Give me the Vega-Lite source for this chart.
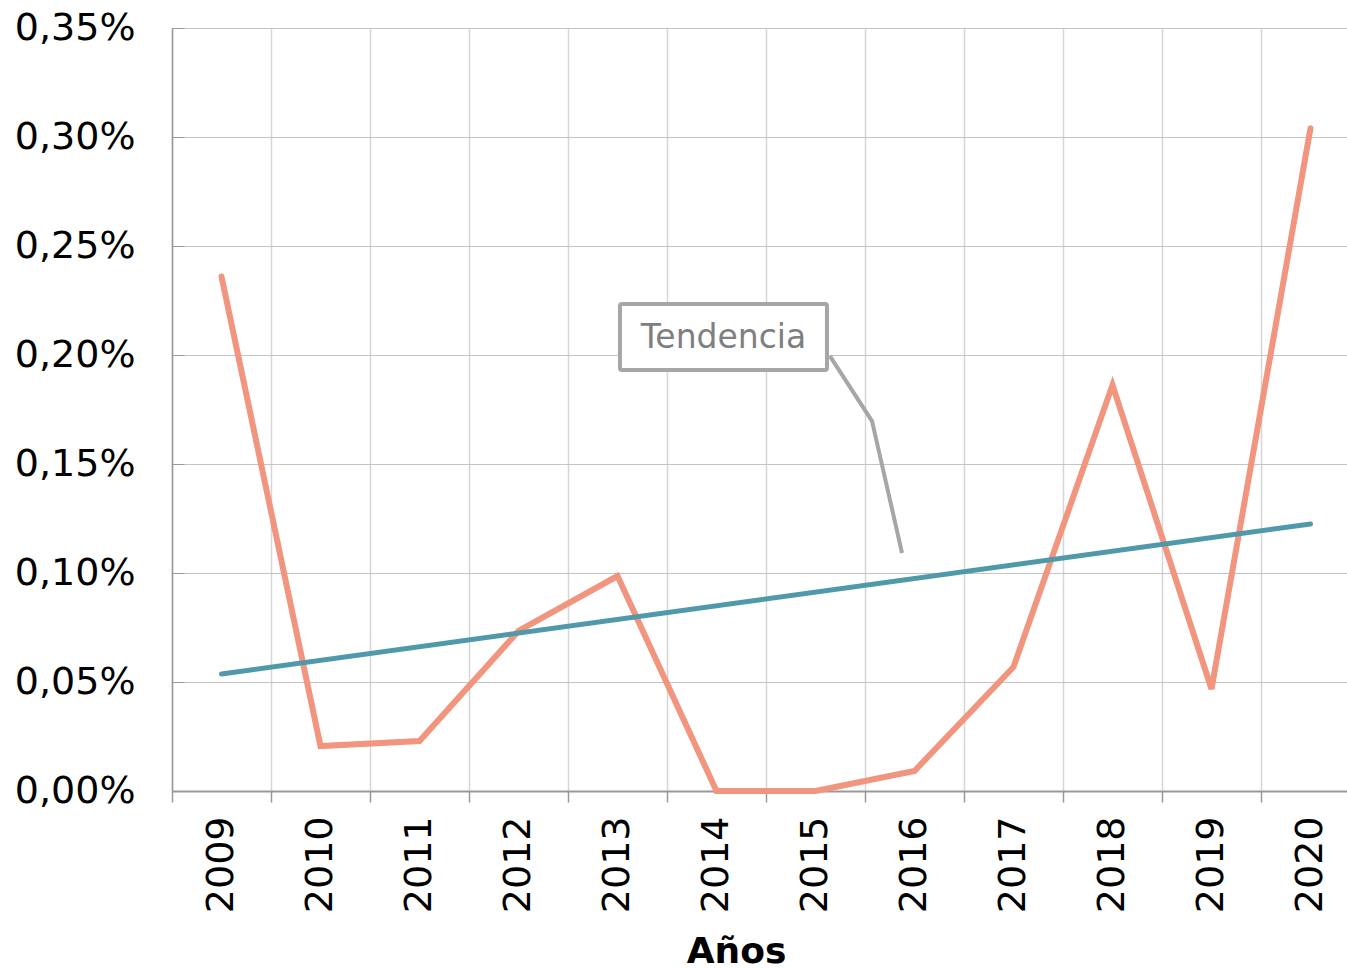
{
  "$schema": "https://vega.github.io/schema/vega-lite/v6.json",
  "width": 1188,
  "height": 763,
  "autosize": {"type": "none"},
  "padding": {"left": 172, "top": 28, "right": 0, "bottom": 177},
  "background": "white",
  "config": {
    "view": {"stroke": "#C4C4C4", "strokeWidth": 1},
    "font": "DejaVu Sans"
  },
  "datasets": {
    "main": [
      {"year": "2009", "v": 0.00236},
      {"year": "2010", "v": 0.000206},
      {"year": "2011", "v": 0.000229},
      {"year": "2012", "v": 0.000734},
      {"year": "2013", "v": 0.000986},
      {"year": "2014", "v": 0},
      {"year": "2015", "v": 0},
      {"year": "2016", "v": 0.000092},
      {"year": "2017", "v": 0.000569},
      {"year": "2018", "v": 0.001862},
      {"year": "2019", "v": 0.000468},
      {"year": "2020", "v": 0.00304}
    ],
    "trend": [
      {"year": "2009", "v": 0.000537},
      {"year": "2020", "v": 0.001225}
    ],
    "leader": [
      {"ax": 2015.146, "v": 0.001995, "o": 1},
      {"ax": 2015.571, "v": 0.001697, "o": 2},
      {"ax": 2015.874, "v": 0.001092, "o": 3}
    ],
    "box": [
      {"ax": 2013.025, "ax2": 2015.116, "v": 0.002234, "v2": 0.001931, "xc": 2014.071, "vc": 0.002078, "label": "Tendencia"}
    ]
  },
  "layer": [
    {
      "layer": [
        {
          "data": {"name": "main"},
          "mark": {"type": "line", "color": "#F2957F", "strokeWidth": 6, "strokeCap": "round", "strokeJoin": "miter"},
          "encoding": {
            "x": {
              "field": "year", "type": "ordinal",
              "scale": {"type": "band", "paddingInner": 0, "paddingOuter": 0, "domain": ["2009","2010","2011","2012","2013","2014","2015","2016","2017","2018","2019","2020"]},
              "axis": {
                "orient": "bottom",
                "title": "Años",
                "titleFont": "DejaVu Sans",
                "titleFontSize": 36,
                "titleFontWeight": "bold",
                "titleColor": "#000000",
                "titleX": 564,
                "titleY": 171,
                "titleBaseline": "alphabetic",
                "titleAlign": "center",
                "labelAngle": -90,
                "labelFont": "DejaVu Sans",
                "labelFontSize": 38,
                "labelColor": "#000000",
                "labelPadding": 14,
                "tickBand": "extent",
                "tickSize": 11,
                "tickColor": "#999999",
                "tickWidth": 1.5,
                "domainColor": "#999999",
                "domainWidth": 2,
                "grid": true,
                "gridColor": "#D6D6D6",
                "gridWidth": 1.5
              }
            },
            "y": {
              "field": "v", "type": "quantitative",
              "scale": {"domain": [0, 0.0035], "nice": false, "zero": true},
              "axis": {
                "title": null,
                "values": [0, 0.0005, 0.001, 0.0015, 0.002, 0.0025, 0.003, 0.0035],
                "labelExpr": "replace(format(datum.value, '.2%'), '.', ',')",
                "labelFont": "DejaVu Sans",
                "labelFontSize": 38,
                "labelColor": "#000000",
                "tickSize": -12,
                "tickColor": "#999999",
                "labelPadding": 49,
                "domainColor": "#999999",
                "domainWidth": 1.5,
                "grid": true,
                "gridColor": "#C4C4C4",
                "gridWidth": 1
              }
            }
          }
        },
        {
          "data": {"name": "trend"},
          "mark": {"type": "line", "color": "#4F99AA", "strokeWidth": 5, "strokeCap": "round"},
          "encoding": {
            "x": {"field": "year", "type": "ordinal"},
            "y": {"field": "v", "type": "quantitative"}
          }
        }
      ]
    },
    {
      "layer": [
        {
          "data": {"name": "leader"},
          "mark": {"type": "line", "color": "#A6A6A6", "strokeWidth": 4},
          "encoding": {
            "x": {"field": "ax", "type": "quantitative", "scale": {"domain": [2008.5, 2020.5], "nice": false, "zero": false}, "axis": null},
            "y": {"field": "v", "type": "quantitative"},
            "order": {"field": "o"}
          }
        },
        {
          "data": {"name": "box"},
          "mark": {"type": "rect", "fill": "white", "stroke": "#A6A6A6", "strokeWidth": 4, "cornerRadius": 2},
          "encoding": {
            "x": {"field": "ax", "type": "quantitative", "axis": null},
            "x2": {"field": "ax2"},
            "y": {"field": "v", "type": "quantitative"},
            "y2": {"field": "v2"}
          }
        },
        {
          "data": {"name": "box"},
          "mark": {"type": "text", "font": "DejaVu Sans", "fontSize": 33, "color": "#7F7F7F", "align": "center", "baseline": "middle"},
          "encoding": {
            "x": {"field": "xc", "type": "quantitative", "axis": null},
            "y": {"field": "vc", "type": "quantitative"},
            "text": {"field": "label"}
          }
        }
      ]
    }
  ],
  "resolve": {"scale": {"x": "independent"}}
}
